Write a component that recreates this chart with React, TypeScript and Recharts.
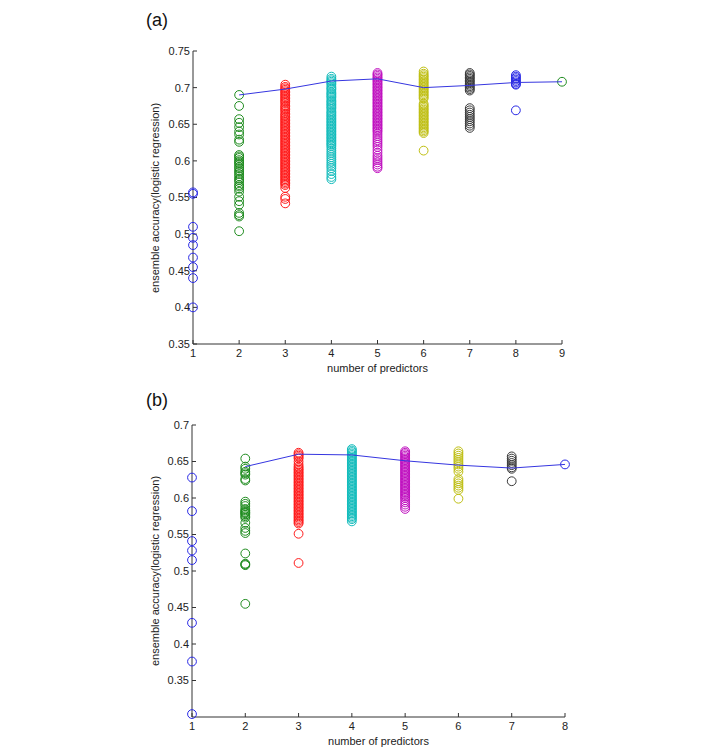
import { ScatterChart, Scatter, XAxis, YAxis } from "recharts";

// panel (a): 9 predictors
const xTicksA = [1, 2, 3, 4, 5, 6, 7, 8, 9];
const yTicksA = [0.35, 0.4, 0.45, 0.5, 0.55, 0.6, 0.65, 0.7, 0.75];
const accA1 = [0.557, 0.555, 0.51, 0.495, 0.485, 0.468, 0.455, 0.44, 0.4];
const accA2 = [0.69, 0.675, 0.657, 0.652, 0.646, 0.64, 0.636, 0.629, 0.626, 0.608, 0.606, 0.604, 0.601, 0.599, 0.597, 0.595, 0.592, 0.59, 0.587, 0.585, 0.582, 0.579, 0.576, 0.574, 0.571, 0.567, 0.565, 0.562, 0.558, 0.551, 0.545, 0.54, 0.529, 0.526, 0.524, 0.504];
const accA3 = [0.704, 0.701, 0.699, 0.697, 0.695, 0.693, 0.691, 0.689, 0.687, 0.685, 0.683, 0.681, 0.679, 0.676, 0.674, 0.672, 0.67, 0.668, 0.665, 0.663, 0.661, 0.659, 0.657, 0.655, 0.653, 0.651, 0.649, 0.647, 0.645, 0.643, 0.641, 0.639, 0.637, 0.635, 0.633, 0.631, 0.629, 0.627, 0.625, 0.623, 0.621, 0.619, 0.617, 0.615, 0.613, 0.611, 0.609, 0.607, 0.605, 0.603, 0.601, 0.599, 0.597, 0.595, 0.593, 0.591, 0.589, 0.587, 0.585, 0.583, 0.581, 0.579, 0.577, 0.575, 0.573, 0.571, 0.569, 0.567, 0.563, 0.551, 0.548, 0.542];
const accA4 = [0.715, 0.712, 0.71, 0.708, 0.706, 0.704, 0.701, 0.699, 0.697, 0.694, 0.692, 0.69, 0.688, 0.686, 0.683, 0.681, 0.679, 0.677, 0.675, 0.673, 0.671, 0.668, 0.666, 0.664, 0.662, 0.66, 0.658, 0.656, 0.654, 0.652, 0.65, 0.648, 0.646, 0.644, 0.642, 0.64, 0.638, 0.636, 0.634, 0.632, 0.63, 0.628, 0.626, 0.624, 0.622, 0.62, 0.617, 0.614, 0.611, 0.608, 0.605, 0.602, 0.599, 0.596, 0.593, 0.59, 0.586, 0.582, 0.578, 0.575];
const accA5 = [0.72, 0.718, 0.716, 0.714, 0.712, 0.71, 0.708, 0.706, 0.704, 0.702, 0.7, 0.698, 0.696, 0.694, 0.692, 0.69, 0.688, 0.686, 0.684, 0.682, 0.68, 0.678, 0.676, 0.674, 0.672, 0.67, 0.668, 0.666, 0.664, 0.662, 0.66, 0.658, 0.656, 0.654, 0.652, 0.65, 0.648, 0.646, 0.644, 0.642, 0.64, 0.637, 0.634, 0.631, 0.628, 0.625, 0.622, 0.619, 0.615, 0.611, 0.607, 0.604, 0.601, 0.598, 0.595, 0.592, 0.59];
const accA6 = [0.722, 0.719, 0.717, 0.715, 0.713, 0.711, 0.709, 0.707, 0.705, 0.703, 0.701, 0.699, 0.697, 0.695, 0.693, 0.691, 0.689, 0.687, 0.685, 0.678, 0.676, 0.674, 0.672, 0.67, 0.668, 0.666, 0.664, 0.662, 0.66, 0.658, 0.656, 0.654, 0.652, 0.65, 0.648, 0.646, 0.644, 0.642, 0.64, 0.638, 0.614];
const accA7 = [0.72, 0.718, 0.716, 0.714, 0.712, 0.71, 0.708, 0.706, 0.704, 0.702, 0.7, 0.698, 0.696, 0.672, 0.669, 0.666, 0.663, 0.66, 0.657, 0.654, 0.651, 0.648, 0.645];
const accA8 = [0.717, 0.715, 0.713, 0.711, 0.709, 0.707, 0.705, 0.704, 0.669];
const accA9 = [0.708];
const lineXA = [2, 3, 4, 5, 6, 7, 8, 9];
const lineA = [0.69, 0.698, 0.709, 0.712, 0.7, 0.703, 0.707, 0.708];

// panel (b): 8 predictors
const xTicksB = [1, 2, 3, 4, 5, 6, 7, 8];
const yTicksB = [0.35, 0.4, 0.45, 0.5, 0.55, 0.6, 0.65, 0.7];
const accB1 = [0.628, 0.582, 0.541, 0.528, 0.515, 0.429, 0.376, 0.304];
const accB2 = [0.654, 0.643, 0.64, 0.636, 0.634, 0.632, 0.626, 0.624, 0.595, 0.592, 0.589, 0.585, 0.583, 0.581, 0.58, 0.579, 0.577, 0.575, 0.573, 0.566, 0.559, 0.555, 0.552, 0.524, 0.51, 0.509, 0.508, 0.455];
const accB3 = [0.662, 0.66, 0.658, 0.656, 0.654, 0.65, 0.646, 0.643, 0.641, 0.639, 0.637, 0.635, 0.633, 0.631, 0.629, 0.627, 0.625, 0.623, 0.621, 0.619, 0.617, 0.615, 0.613, 0.611, 0.609, 0.607, 0.605, 0.603, 0.601, 0.599, 0.597, 0.595, 0.593, 0.591, 0.589, 0.587, 0.585, 0.583, 0.581, 0.579, 0.577, 0.575, 0.573, 0.571, 0.569, 0.567, 0.565, 0.551, 0.511];
const accB4 = [0.667, 0.665, 0.663, 0.661, 0.659, 0.657, 0.655, 0.653, 0.651, 0.649, 0.647, 0.645, 0.643, 0.641, 0.639, 0.637, 0.635, 0.633, 0.631, 0.629, 0.627, 0.625, 0.623, 0.621, 0.619, 0.617, 0.615, 0.613, 0.611, 0.609, 0.607, 0.605, 0.603, 0.601, 0.599, 0.597, 0.595, 0.593, 0.591, 0.589, 0.587, 0.585, 0.583, 0.581, 0.579, 0.577, 0.575, 0.573, 0.571, 0.568];
const accB5 = [0.664, 0.662, 0.66, 0.658, 0.656, 0.654, 0.652, 0.65, 0.648, 0.646, 0.644, 0.642, 0.64, 0.638, 0.636, 0.634, 0.632, 0.63, 0.628, 0.626, 0.624, 0.622, 0.62, 0.618, 0.616, 0.614, 0.612, 0.61, 0.608, 0.606, 0.604, 0.602, 0.6, 0.597, 0.594, 0.591, 0.588, 0.585];
const accB6 = [0.664, 0.661, 0.658, 0.655, 0.652, 0.649, 0.646, 0.643, 0.64, 0.636, 0.626, 0.623, 0.62, 0.617, 0.614, 0.611, 0.599];
const accB7 = [0.657, 0.654, 0.651, 0.648, 0.645, 0.642, 0.64, 0.623];
const accB8 = [0.646];
const lineXB = [2, 3, 4, 5, 6, 7, 8];
const lineB = [0.643, 0.66, 0.659, 0.651, 0.645, 0.641, 0.646];

// matlab default colour order b g r c m y k
const colors = ["#2828e6", "#1f8c1f", "#ff1a1a", "#12bcbc", "#c010c0", "#bfbf12", "#3a3a3a"];
const lineColor = "#3636e0";
const FONT = "'Liberation Sans', Arial, sans-serif";

const toPoints = (x: number, ys: number[]) => ys.map((y) => ({ x, y }));

const ring = (color: string) => (props: any) => (
  <circle cx={props.cx} cy={props.cy} r={4.4} fill="none" stroke={color} strokeWidth={1} />
);

interface PanelProps {
  top: number;
  height: number;
  plotTop: number;
  plotBottom: number;
  plotLeft: number;
  plotRight: number;
  xTicks: number[];
  yTicks: number[];
  yDomain: [number, number];
  columns: number[][];
  lineX: number[];
  lineY: number[];
  tag: string;
}

function Panel(p: PanelProps) {
  const yAxisW = 40;
  const xAxisH = 30;
  const margin = {
    top: p.plotTop - p.top,
    bottom: p.top + p.height - p.plotBottom - xAxisH,
    left: p.plotLeft - yAxisW,
    right: 714 - p.plotRight,
  };
  const tickStyle = { fontSize: 11, fill: "#222", fontFamily: FONT };
  const linePts = p.lineX.map((x, i) => ({ x, y: p.lineY[i] }));
  const midY = (p.plotTop + p.plotBottom) / 2;
  const midX = (p.plotLeft + p.plotRight) / 2;

  return (
    <>
      <div style={{ position: "absolute", left: 0, top: p.top }}>
        <ScatterChart width={714} height={p.height} margin={margin}>
          <XAxis
            type="number"
            dataKey="x"
            domain={[p.xTicks[0], p.xTicks[p.xTicks.length - 1]]}
            ticks={p.xTicks}
            height={xAxisH}
            tickSize={-4}
            tickMargin={9}
            stroke="#333"
            tick={tickStyle}
            interval={0}
          />
          <YAxis
            type="number"
            dataKey="y"
            domain={p.yDomain}
            ticks={p.yTicks}
            width={yAxisW}
            tickSize={-4}
            tickMargin={7}
            stroke="#333"
            tick={tickStyle}
            interval={0}
            tickFormatter={(v) => String(v)}
          />
          {p.columns.map((ys, i) => (
            <Scatter
              key={i}
              data={toPoints(i + 1, ys)}
              shape={ring(colors[i % colors.length])}
              isAnimationActive={false}
            />
          ))}
          <Scatter
            data={linePts}
            line={{ stroke: lineColor, strokeWidth: 1 }}
            shape={() => <g />}
            isAnimationActive={false}
          />
        </ScatterChart>
      </div>
      <div
        style={{
          position: "absolute",
          left: 155,
          top: midY,
          transform: "translate(-50%, -50%) rotate(-90deg)",
          whiteSpace: "nowrap",
          fontSize: 11,
          color: "#222",
          fontFamily: FONT,
        }}
      >
        ensemble accuracy(logistic regression)
      </div>
      <div
        style={{
          position: "absolute",
          left: midX,
          top: p.plotBottom + 24,
          transform: "translate(-50%, -50%)",
          whiteSpace: "nowrap",
          fontSize: 11,
          color: "#222",
          fontFamily: FONT,
        }}
      >
        number of predictors
      </div>
      <div
        style={{
          position: "absolute",
          left: 146,
          top: p.top + 20,
          transform: "translateY(-50%)",
          fontSize: 18,
          color: "#111",
          fontFamily: FONT,
        }}
      >
        {p.tag}
      </div>
    </>
  );
}

export default function App() {
  return (
    <div style={{ position: "absolute", left: 0, top: 0, width: 714, height: 753, background: "#fff" }}>
      <Panel
        top={0}
        height={380}
        plotTop={51}
        plotBottom={344}
        plotLeft={193}
        plotRight={562}
        xTicks={xTicksA}
        yTicks={yTicksA}
        yDomain={[0.35, 0.75]}
        columns={[accA1, accA2, accA3, accA4, accA5, accA6, accA7, accA8, accA9]}
        lineX={lineXA}
        lineY={lineA}
        tag="(a)"
      />
      <Panel
        top={380}
        height={373}
        plotTop={425}
        plotBottom={717}
        plotLeft={192}
        plotRight={565}
        xTicks={xTicksB}
        yTicks={yTicksB}
        yDomain={[0.3, 0.7]}
        columns={[accB1, accB2, accB3, accB4, accB5, accB6, accB7, accB8]}
        lineX={lineXB}
        lineY={lineB}
        tag="(b)"
      />
    </div>
  );
}
